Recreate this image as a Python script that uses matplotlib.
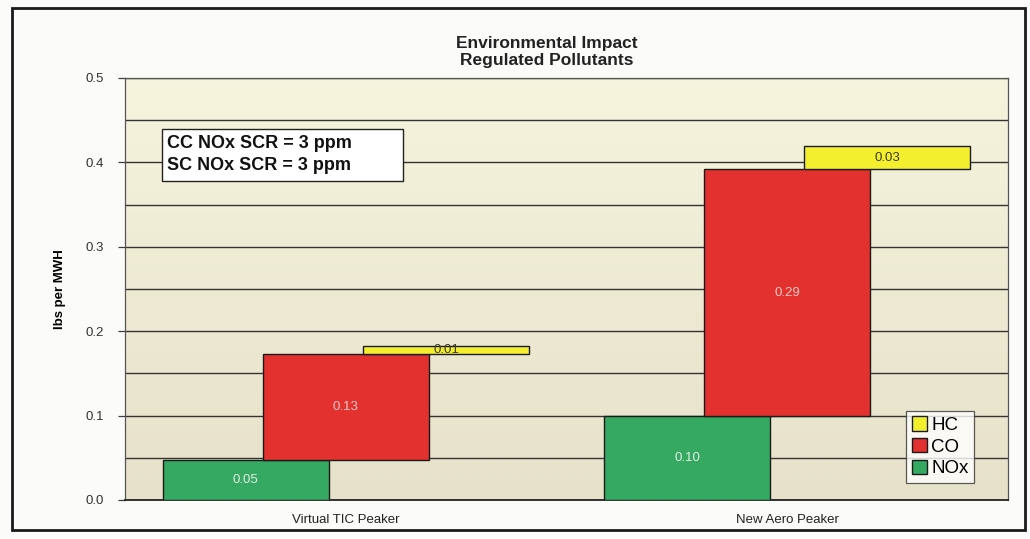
#!/usr/bin/env python3

"""
Regulated pollutant emissions per MWH for the two peaker options,
drawn as stepped (waterfall style) stacks: NOx, then CO, then HC.
"""

import numpy
from matplotlib import pyplot as plt
from matplotlib.colors import LinearSegmentedColormap
from matplotlib.patches import Rectangle, Patch

# Data
categories = ['Virtual TIC Peaker', 'New Aero Peaker']
pollutants = ['NOx', 'CO', 'HC']
nox = [0.047, 0.099]
co = [0.126, 0.293]
hc = [0.009, 0.027]

colors = {'NOx': '#35a862', 'CO': '#e2312e', 'HC': '#f4ef2e'}
text_colors = {'NOx': '#e4efe4', 'CO': '#f2c9c4', 'HC': '#3a3a20'}

plt.rcParams['font.family'] = ['Liberation Sans', 'DejaVu Sans']

fig = plt.figure(figsize=(10.30, 5.39), dpi=100)
fig.patch.set_facecolor('#fbfbf9')

# Outer frame round the whole chart
fig.patches.append(Rectangle((12/1030., 1 - 530/539.), 1013/1030., 522/539.,
                             transform=fig.transFigure, fill=False,
                             edgecolor='#1a1a1a', linewidth=2.0))

ax = fig.add_axes([125/1030., 1 - 500/539., 883/1030., 422/539.])
ax.set_xlim(-0.5, 1.5)
ax.set_ylim(0.0, 0.5)

# Pale yellow plot area, a little darker toward the bottom
grad = numpy.linspace(0, 1, 256).reshape(-1, 1)
ax.imshow(grad, extent=(-0.5, 1.5, 0.0, 0.5), aspect='auto', origin='upper',
          cmap=LinearSegmentedColormap.from_list('bg', ['#f5f4dd', '#e7e1c9']),
          zorder=0)

# Gridlines every 0.05
for y in numpy.arange(0.05, 0.5001, 0.05):
    ax.axhline(y, color='#333333', linewidth=1.0, zorder=1)

width = 0.376
step = 0.227
x = numpy.arange(len(categories))

bottoms = numpy.zeros(len(categories))
for i, (name, vals) in enumerate(zip(pollutants, [nox, co, hc])):
    vals = numpy.array(vals)
    pos = x + (i - 1) * step
    ax.bar(pos, vals, width=width, bottom=bottoms, color=colors[name],
           edgecolor='#1a1a1a', linewidth=1.0, zorder=3, label=name)
    for xp, b, v in zip(pos, bottoms, vals):
        ax.text(xp, b + v / 2.0, '%.2f' % v, ha='center', va='center',
                fontsize=9.5, color=text_colors[name], zorder=4)
    bottoms = bottoms + vals

# Axes styling
ax.set_yticks(numpy.arange(0.0, 0.51, 0.1))
ax.set_yticklabels(['%.1f' % t for t in numpy.arange(0.0, 0.51, 0.1)])
ax.set_xticks(x)
ax.set_xticklabels(categories)
ax.tick_params(axis='y', length=5, width=0.9, color='#3c3c3c', labelsize=9.5,
               labelcolor='#333333', pad=10)
ax.tick_params(axis='x', length=0, labelsize=9.5, labelcolor='#222222', pad=10)
for side in ['top', 'right', 'left', 'bottom']:
    ax.spines[side].set_color('#555555')
    ax.spines[side].set_linewidth(0.9)
ax.spines['bottom'].set_color('#222222')
ax.spines['bottom'].set_linewidth(1.3)

ax.set_ylabel('lbs per MWH', fontsize=9.5, fontweight='bold', labelpad=14)

fig.text(547/1030., 1 - 52/539., 'Environmental Impact\nRegulated Pollutants',
         ha='center', va='center', fontsize=12.5, fontweight='bold',
         color='#222222', linespacing=1.2)

# Note box
ax.add_patch(Rectangle((0.042, 0.756), 0.273, 0.123, transform=ax.transAxes,
                       facecolor='white', edgecolor='#222222', linewidth=1.0,
                       zorder=5))
ax.text(0.047, 0.8185, 'CC NOx SCR = 3 ppm\nSC NOx SCR = 3 ppm',
        transform=ax.transAxes, ha='left', va='center', fontsize=13,
        fontweight='bold', color='#111111', linespacing=1.4, zorder=6)

handles = [Patch(facecolor=colors[p], edgecolor='#1a1a1a', label=p)
           for p in ['HC', 'CO', 'NOx']]
leg = ax.legend(handles=handles, loc='lower right',
                bbox_to_anchor=(0.962, 0.04), fontsize=13.5, frameon=True,
                fancybox=False, edgecolor='#333333', handlelength=0.8,
                handleheight=0.8, handletextpad=0.25, borderpad=0.3,
                labelspacing=0.22, borderaxespad=0.0)
leg.get_frame().set_linewidth(0.9)
leg.set_zorder(6)

fig.savefig('out.png', dpi=100, facecolor=fig.get_facecolor())
